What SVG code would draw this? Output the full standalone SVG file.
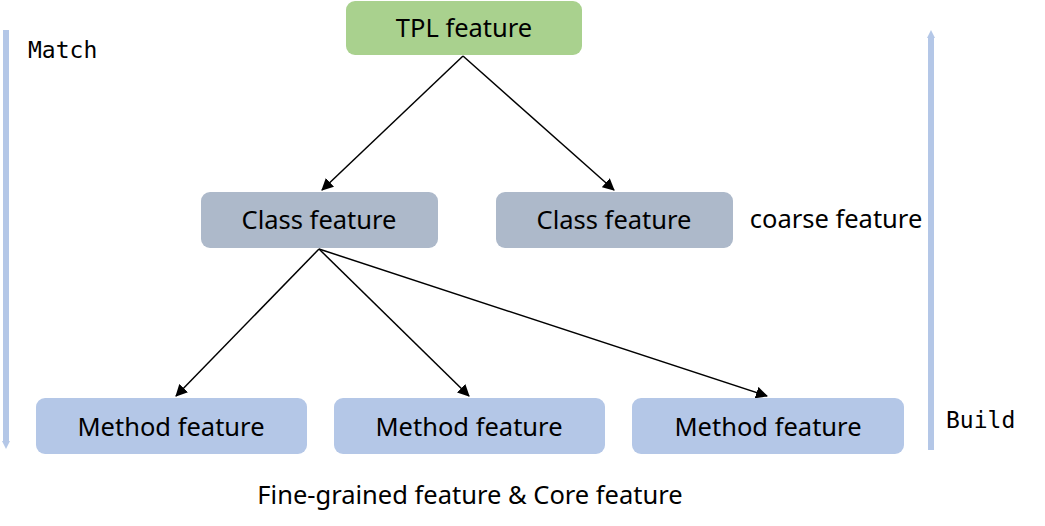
<svg xmlns="http://www.w3.org/2000/svg" width="1045" height="526" viewBox="0 0 1045 526">
<style>
.t{font-family:"Noto Sans","Open Sans",sans-serif;font-size:25.5px;fill:#000;text-anchor:middle;dominant-baseline:central}
.m{font-family:"DejaVu Sans Mono","Liberation Mono",monospace;font-size:23px;fill:#000}
.c{stroke:#000;stroke-width:1.5;fill:none;marker-end:url(#ah)}
.side{stroke:#b4c7e7;stroke-width:6;fill:none}
</style>
<defs>
<marker id="ah" markerWidth="12" markerHeight="12" refX="11" refY="6" orient="auto" markerUnits="userSpaceOnUse" viewBox="0 0 12 12">
<path d="M0,0 L12,6 L0,12 Z" fill="#000"/>
</marker>
<marker id="bh" markerWidth="12" markerHeight="8" refX="2" refY="4" orient="auto" markerUnits="userSpaceOnUse">
<path d="M0,0 L8,4 L0,8 Z" fill="#b4c7e7"/>
</marker>
</defs>
<rect width="1045" height="526" fill="#fff"/>
<g id="match">
<line class="side" x1="6" y1="30" x2="6" y2="443" marker-end="url(#bh)"/>
<text class="m" x="28" y="58">Match</text>
</g>
<g id="build">
<line class="side" x1="931" y1="450" x2="931" y2="36" marker-end="url(#bh)"/>
<text class="m" x="946" y="428">Build</text>
</g>
<g id="connectors">
<line class="c" x1="463" y1="56" x2="322" y2="190"/>
<line class="c" x1="463" y1="56" x2="614" y2="190"/>
<line class="c" x1="319" y1="249" x2="176" y2="396"/>
<line class="c" x1="319" y1="249" x2="469" y2="396"/>
<line class="c" x1="319" y1="249" x2="767" y2="396"/>
</g>
<g id="tpl">
<rect x="346" y="1" width="236" height="54" rx="9" fill="#a9d18e"/>
<text class="t" x="464" y="27">TPL feature</text>
</g>
<g id="class1">
<rect x="201" y="192" width="237" height="56" rx="9" fill="#adb9ca"/>
<text class="t" x="319" y="219">Class feature</text>
</g>
<g id="class2">
<rect x="496" y="192" width="237" height="56" rx="9" fill="#adb9ca"/>
<text class="t" x="614" y="219">Class feature</text>
</g>
<g id="method1">
<rect x="36" y="398" width="271" height="56" rx="9" fill="#b4c7e7"/>
<text class="t" x="171" y="426">Method feature</text>
</g>
<g id="method2">
<rect x="334" y="398" width="271" height="56" rx="9" fill="#b4c7e7"/>
<text class="t" x="469" y="426">Method feature</text>
</g>
<g id="method3">
<rect x="632" y="398" width="272" height="56" rx="9" fill="#b4c7e7"/>
<text class="t" x="768" y="426">Method feature</text>
</g>
<text class="t" x="836" y="218">coarse feature</text>
<text class="t" x="470" y="494">Fine-grained feature &amp; Core feature</text>
</svg>
